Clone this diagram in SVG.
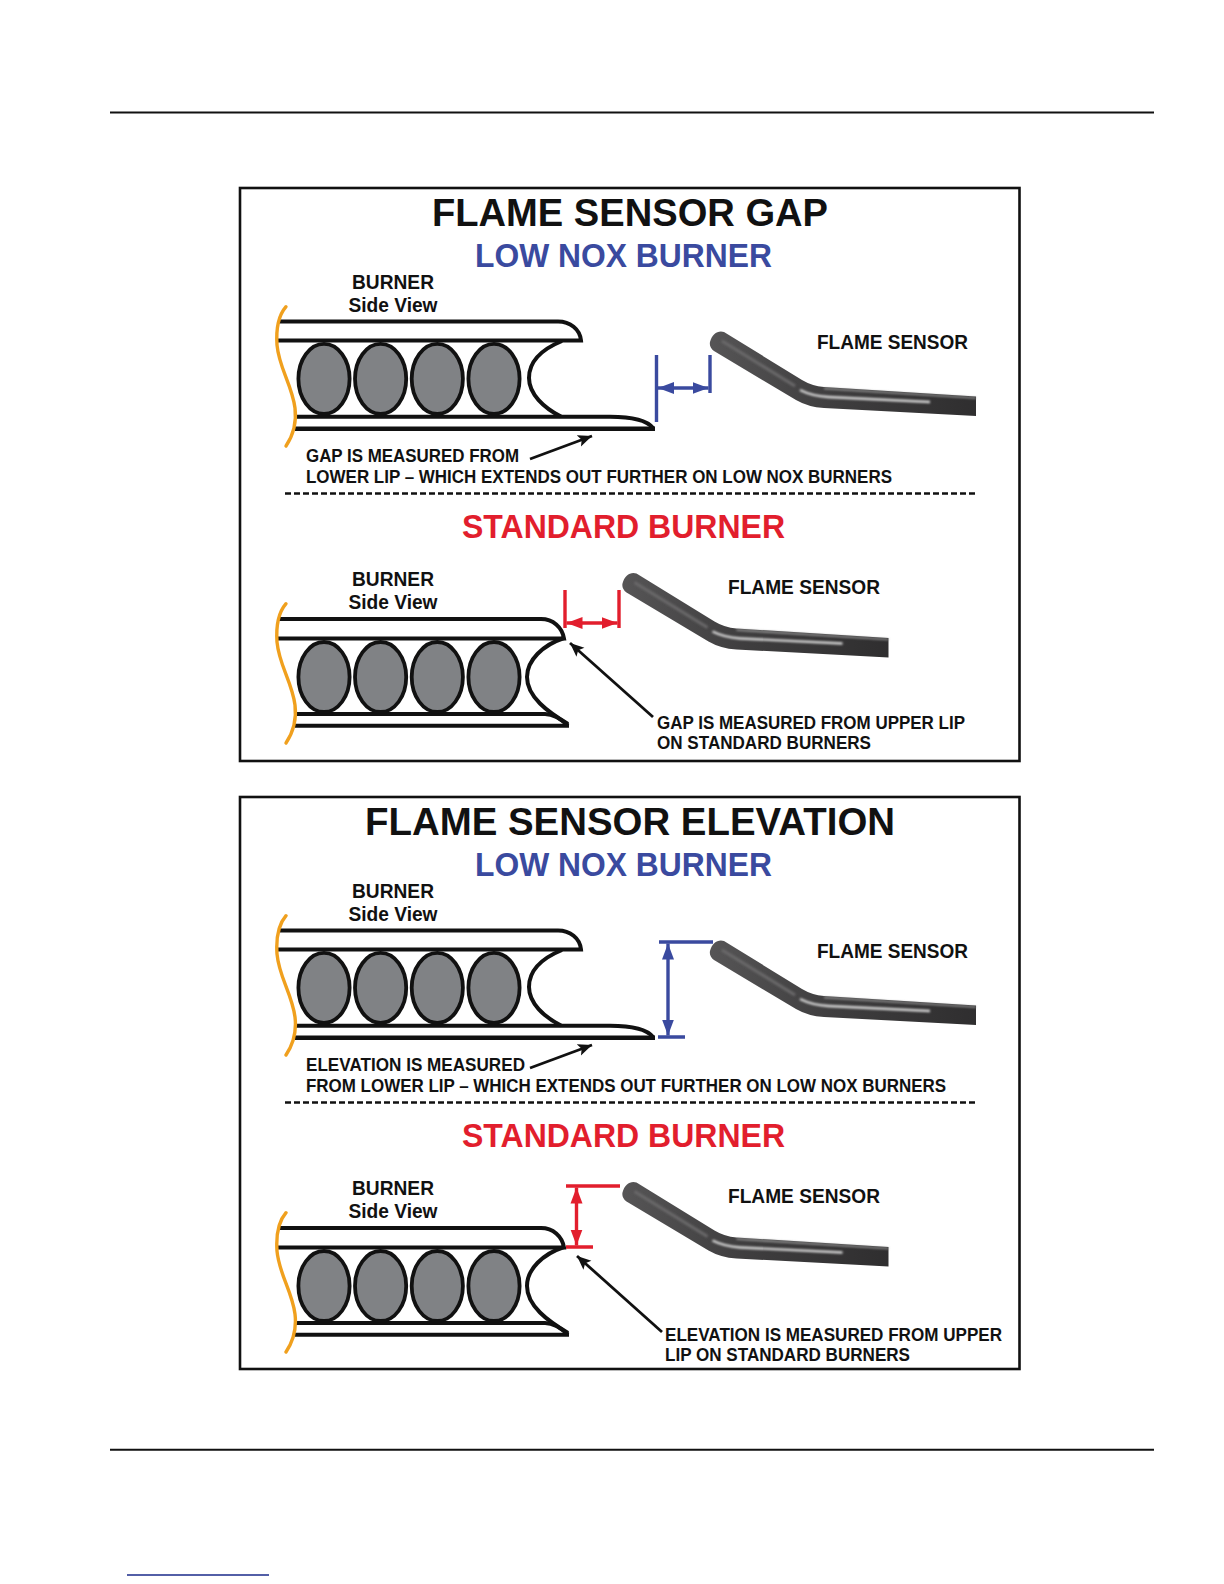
<svg xmlns="http://www.w3.org/2000/svg" xmlns:xlink="http://www.w3.org/1999/xlink" width="1224" height="1584" viewBox="0 0 1224 1584">
<style>
text{font-family:"Liberation Sans",Arial,sans-serif;font-weight:700;fill:#111}
.t1{font-size:38px}.t2{font-size:33px}.lb{font-size:20px}.nt{font-size:17.5px}
.blue{fill:#3a4a9f}.red{fill:#e21e2d}
.frame{fill:#fff;stroke:#111;stroke-width:2.600}
.rule{stroke:#111;stroke-width:2}
.bk{fill:none;stroke:#111;stroke-width:4}
.bk2{fill:none;stroke:#111;stroke-width:4.600}
.tube{fill:#808285;stroke:#111;stroke-width:3.800}
.org{fill:none;stroke:#f0a01e;stroke-width:3.400;stroke-linecap:round}
.dash{stroke:#111;stroke-width:2.600;stroke-dasharray:6 3}
.bl{stroke:#3a4a9f;stroke-width:3.400;fill:none}
.rd{stroke:#e21e2d;stroke-width:3.400;fill:none}
.ptr{stroke:#111;stroke-width:2.800;fill:none}
</style>
<defs>
<marker id="ab" markerUnits="userSpaceOnUse" markerWidth="17" markerHeight="14" refX="16" refY="7" orient="auto-start-reverse"><path d="M0 1L16 7L0 13Z" fill="#3a4a9f"/></marker>
<marker id="ar" markerUnits="userSpaceOnUse" markerWidth="17" markerHeight="14" refX="16" refY="7" orient="auto-start-reverse"><path d="M0 1L16 7L0 13Z" fill="#e21e2d"/></marker>
<marker id="ak" markerUnits="userSpaceOnUse" markerWidth="15" markerHeight="14" refX="14" refY="7" orient="auto"><path d="M0 1L14 7L0 13L3 7Z" fill="#111"/></marker>
<linearGradient id="sg" x1="0" y1="0" x2="1" y2="0"><stop offset="0" stop-color="#565556"/><stop offset=".45" stop-color="#3f3e3f"/><stop offset="1" stop-color="#2f2e2f"/></linearGradient>
<filter id="soft" x="-10%" y="-50%" width="120%" height="200%"><feGaussianBlur stdDeviation="1"/></filter>
<g id="tubes">
<ellipse class="tube" cx="324" cy="0" rx="25.600" ry="35"/><ellipse class="tube" cx="380.600" cy="0" rx="25.600" ry="35"/><ellipse class="tube" cx="437.300" cy="0" rx="25.600" ry="35"/><ellipse class="tube" cx="494" cy="0" rx="25.600" ry="35"/>
</g>
<g id="burner-low">
<path class="bk" d="M279 321.500H558C570 321.500 580 329 581 340.500H278"/>
<path class="bk" d="M562 341C540 350 529 362 529 378C529 394 544 408 561 416.500"/>
<path class="bk" d="M296 416.700H610C630 416.700 646 419 653 428"/>
<path class="bk2" d="M295 428.700H655"/>
<use xlink:href="#tubes" href="#tubes" y="378.800"/>
<path class="org" d="M286 306.700C278 316 276 330 277 345C279 368 292 385 295 408C297 425 292 437 286 446"/>
</g>
<g id="burner-std">
<path class="bk" d="M279 619H541C553 619 562 627 564 638.500H278"/>
<path class="bk" d="M564 638C543 645 527 660 527 677C527 697 548 712 568 724"/>
<path class="bk" d="M296 714H545C552 714 560 718 568 725.500"/>
<path class="bk" d="M295 725.700H569"/>
<use xlink:href="#tubes" href="#tubes" y="677"/>
<path class="org" d="M286 603.700C278 613 276 627 277 642C279 665 292 682 295 705C297 722 292 734 286 743"/>
</g>
<g id="sensor">
<path d="M710 342C712 334 718 330 724 332L802 380Q812 386 824 387L976 396.500V416L824 408Q808 407 796 400L714 351Q709 347 710 342Z" fill="url(#sg)"/>
<path d="M800 390Q812 396 828 397L930 402" fill="none" stroke="#d8d8d8" stroke-width="2.400" filter="url(#soft)"/>
<path d="M824 388.500L976 398" fill="none" stroke="#9a9a9a" stroke-width="1.600" filter="url(#soft)"/>
<path d="M722 341L795 386" fill="none" stroke="#6a696a" stroke-width="3" filter="url(#soft)"/>
</g>
</defs>

<rect width="1224" height="1584" fill="#fff"/>
<g id="page">
<line class="rule" x1="110" y1="112.500" x2="1154" y2="112.500"/>
<line class="rule" x1="110" y1="1449.700" x2="1154" y2="1449.700"/>
<line x1="127" y1="1575" x2="269" y2="1575" stroke="#1a2a8a" stroke-width="1.500"/>
</g>

<g id="panel-gap">
<rect class="frame" x="240" y="188" width="779.500" height="573"/>
<text class="t1" x="432" y="226" textLength="396" lengthAdjust="spacingAndGlyphs">FLAME SENSOR GAP</text>
<text class="t2 blue" x="475" y="267" textLength="297" lengthAdjust="spacingAndGlyphs">LOW NOX BURNER</text>
<text class="lb" x="352" y="288.500" textLength="82" lengthAdjust="spacingAndGlyphs">BURNER</text>
<text class="lb" x="348.500" y="312" textLength="89" lengthAdjust="spacingAndGlyphs">Side View</text>
<use id="burner-gap-low" xlink:href="#burner-low" href="#burner-low"/>
<use id="sensor-gap-low" xlink:href="#sensor" href="#sensor"/>
<text class="lb" x="817" y="349" textLength="151" lengthAdjust="spacingAndGlyphs">FLAME SENSOR</text>
<text class="nt" x="306" y="462" textLength="213" lengthAdjust="spacingAndGlyphs">GAP IS MEASURED FROM</text>
<text class="nt" x="306" y="482.500" textLength="586" lengthAdjust="spacingAndGlyphs">LOWER LIP – WHICH EXTENDS OUT FURTHER ON LOW NOX BURNERS</text>
<line class="dash" x1="285" y1="493.500" x2="976" y2="493.500"/>
<text class="t2 red" x="462" y="538" textLength="323" lengthAdjust="spacingAndGlyphs">STANDARD BURNER</text>
<text class="lb" x="352" y="585.500" textLength="82" lengthAdjust="spacingAndGlyphs">BURNER</text>
<text class="lb" x="348.500" y="609" textLength="89" lengthAdjust="spacingAndGlyphs">Side View</text>
<use id="burner-gap-std" xlink:href="#burner-std" href="#burner-std"/>
<use id="sensor-gap-std" xlink:href="#sensor" href="#sensor" transform="translate(-87.500 241.500)"/>
<text class="lb" x="728" y="593.500" textLength="152" lengthAdjust="spacingAndGlyphs">FLAME SENSOR</text>
<text class="nt" x="657" y="729" textLength="308" lengthAdjust="spacingAndGlyphs">GAP IS MEASURED FROM UPPER LIP</text>
<text class="nt" x="657" y="749" textLength="214" lengthAdjust="spacingAndGlyphs">ON STANDARD BURNERS</text>
</g>

<g id="panel-elevation">
<rect class="frame" x="240" y="797" width="779.500" height="572"/>
<text class="t1" x="365" y="835" textLength="530" lengthAdjust="spacingAndGlyphs">FLAME SENSOR ELEVATION</text>
<text class="t2 blue" x="475" y="876" textLength="297" lengthAdjust="spacingAndGlyphs">LOW NOX BURNER</text>
<text class="lb" x="352" y="897.500" textLength="82" lengthAdjust="spacingAndGlyphs">BURNER</text>
<text class="lb" x="348.500" y="921" textLength="89" lengthAdjust="spacingAndGlyphs">Side View</text>
<use id="burner-elev-low" xlink:href="#burner-low" href="#burner-low" y="609"/>
<use id="sensor-elev-low" xlink:href="#sensor" href="#sensor" y="609"/>
<text class="lb" x="817" y="958" textLength="151" lengthAdjust="spacingAndGlyphs">FLAME SENSOR</text>
<text class="nt" x="306" y="1071" textLength="219" lengthAdjust="spacingAndGlyphs">ELEVATION IS MEASURED</text>
<text class="nt" x="306" y="1091.500" textLength="640" lengthAdjust="spacingAndGlyphs">FROM LOWER LIP – WHICH EXTENDS OUT FURTHER ON LOW NOX BURNERS</text>
<line class="dash" x1="285" y1="1102.500" x2="976" y2="1102.500"/>
<text class="t2 red" x="462" y="1147" textLength="323" lengthAdjust="spacingAndGlyphs">STANDARD BURNER</text>
<text class="lb" x="352" y="1194.500" textLength="82" lengthAdjust="spacingAndGlyphs">BURNER</text>
<text class="lb" x="348.500" y="1218" textLength="89" lengthAdjust="spacingAndGlyphs">Side View</text>
<use id="burner-elev-std" xlink:href="#burner-std" href="#burner-std" y="609"/>
<use id="sensor-elev-std" xlink:href="#sensor" href="#sensor" transform="translate(-87.500 850.500)"/>
<text class="lb" x="728" y="1202.500" textLength="152" lengthAdjust="spacingAndGlyphs">FLAME SENSOR</text>
<text class="nt" x="665" y="1341" textLength="337" lengthAdjust="spacingAndGlyphs">ELEVATION IS MEASURED FROM UPPER</text>
<text class="nt" x="665" y="1361" textLength="245" lengthAdjust="spacingAndGlyphs">LIP ON STANDARD BURNERS</text>
</g>

<g id="connectors">
<path class="bl" d="M656.500 355V422M710 355V393"/>
<line class="bl" x1="658" y1="388" x2="708.500" y2="388" marker-start="url(#ab)" marker-end="url(#ab)"/>
<path class="ptr" d="M530 459L592 436" marker-end="url(#ak)"/>
<path class="rd" d="M565 590V628M619 590V628"/>
<line class="rd" x1="566.500" y1="623" x2="617.500" y2="623" marker-start="url(#ar)" marker-end="url(#ar)"/>
<path class="ptr" d="M653 717L570 643" marker-end="url(#ak)"/>
<path class="bl" d="M659 942H713M658 1037H685"/>
<line class="bl" x1="668" y1="943.500" x2="668" y2="1035.500" marker-start="url(#ab)" marker-end="url(#ab)"/>
<path class="ptr" d="M530 1068L592 1045" marker-end="url(#ak)"/>
<path class="rd" d="M566 1186H620M566 1247H593"/>
<line class="rd" x1="576.500" y1="1187.500" x2="576.500" y2="1245.500" marker-start="url(#ar)" marker-end="url(#ar)"/>
<path class="ptr" d="M662 1332L577 1256" marker-end="url(#ak)"/>
</g>
</svg>
